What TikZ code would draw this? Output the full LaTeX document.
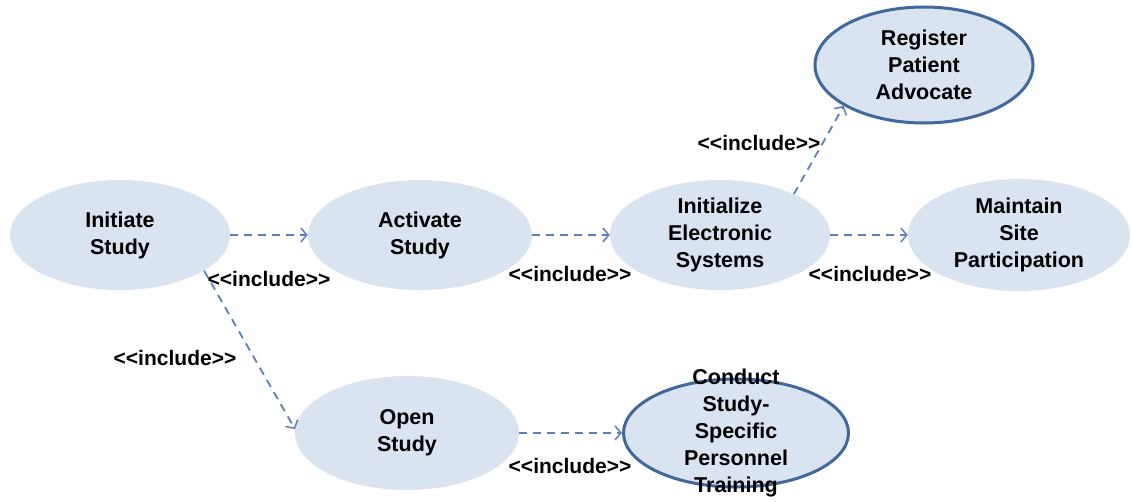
\documentclass[tikz,border=0pt]{standalone}
\usepackage{fontspec}
\setmainfont[Ligatures=NoCommon]{Liberation Sans}
\usetikzlibrary{shapes.geometric,arrows.meta}
\definecolor{ucfill}{HTML}{DAE3F0}
\definecolor{ucedge}{HTML}{41689C}
\definecolor{dep}{HTML}{5B7FB6}
\tikzset{
  usecase/.style={ellipse, fill=ucfill, draw=none, inner sep=0pt},
  keycase/.style={usecase, draw=ucedge, line width=3pt},
  uctext/.style={align=center, inner sep=0pt,
    font=\fontsize{21.5}{27}\selectfont\bfseries},
  incl/.style={draw=dep, line width=1.8pt, dash pattern=on 8pt off 6pt,
    -{Straight Barb[length=6pt,width=14pt,line width=1.5pt]}},
  stereo/.style={font=\fontsize{21}{22}\selectfont\bfseries, inner sep=0pt}
}
\newcommand{\incltag}{<{}<include>{}>}
\begin{document}
\begin{tikzpicture}[x=1pt,y=-1pt]
\useasboundingbox (0,0) rectangle (1133,501);

% use cases: ellipses of fixed size, their names set on top
\node[usecase, minimum width=220pt, minimum height=110pt,
  label={[uctext]center:Initiate\\Study}] (initiate) at (120,235) {};
\node[usecase, minimum width=224pt, minimum height=110pt,
  label={[uctext]center:Activate\\Study}] (activate) at (420,235) {};
\node[usecase, minimum width=220pt, minimum height=110pt,
  label={[uctext]center:Initialize\\Electronic\\Systems}] (initialize) at (720,235) {};
\node[usecase, minimum width=222pt, minimum height=112pt,
  label={[uctext]center:Maintain\\Site\\Participation}] (maintain) at (1019,235) {};
\node[keycase, minimum width=218pt, minimum height=116pt,
  label={[uctext]center:Register\\Patient\\Advocate}] (register) at (924,65) {};
\node[usecase, minimum width=224pt, minimum height=114pt,
  label={[uctext]center:Open\\Study}] (open) at (407,433) {};
\node[keycase, minimum width=225pt, minimum height=108pt,
  label={[uctext]center:Conduct\\Study-\\Specific\\Personnel\\Training}] (conduct) at (736,433) {};

% include dependencies
\draw[incl] (initiate) -- (activate);
\draw[incl] (activate) -- (initialize);
\draw[incl] (initialize) -- (maintain);
\draw[incl] (initialize.29) -- (register.207);
\draw[incl] (initiate.-23) -- (open.178);
\draw[incl] (open) -- (conduct);

% stereotype labels
\node[stereo] (l1) at (269,279) {\incltag};
\node[stereo] (l2) at (570,274) {\incltag};
\node[stereo] (l3) at (870,274) {\incltag};
\node[stereo] (l4) at (759,143) {\incltag};
\node[stereo] (l5) at (175,358) {\incltag};
\node[stereo] (l6) at (570,466) {\incltag};
\end{tikzpicture}
\end{document}
